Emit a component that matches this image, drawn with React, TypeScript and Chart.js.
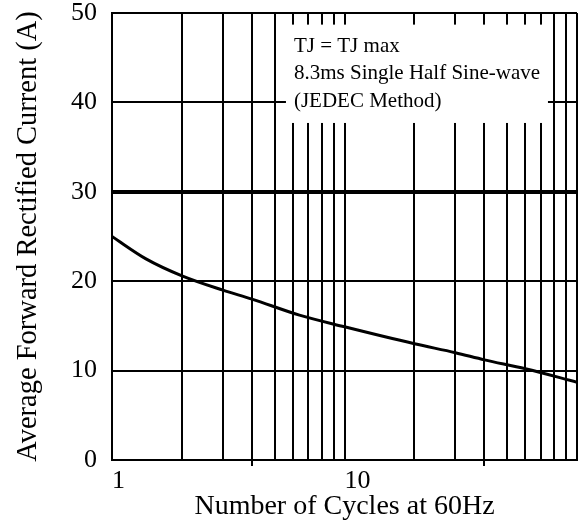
import React, { useEffect, useRef } from 'react';
import { Chart, registerables } from 'chart.js';

Chart.register(...registerables);

// ---- data ----
const cycles = [1, 1.4, 2, 3, 4, 6.4, 10, 20, 30, 40, 60, 100];
const current = [25, 22.5, 20.6, 19, 18, 16.2, 14.9, 13, 12, 11.2, 10.2, 8.7];
const xGridValues = [1, 2, 3, 4, 5, 6, 7, 8, 9, 10, 20, 30, 40, 50, 60, 70, 80, 90, 100];
const xLabelValues = [1, 10];
const xTickMarkValues = [4, 40];
const yMin = 0;
const yMax = 50;
const yStep = 10;
const emphasizedY = 30;
const noteLines = ['TJ = TJ max', '8.3ms Single Half Sine-wave', '(JEDEC Method)'];
const xTitle = 'Number of Cycles at 60Hz';
const yTitle = 'Average Forward Rectified Current (A)';

const FONT = '"Liberation Serif", "Times New Roman", Times, serif';

const notePlugin = {
  id: 'noteBox',
  beforeDatasetsDraw(chart: any) {
    const { ctx, scales } = chart;
    const x = scales.x;
    const y = scales.y;
    const left = x.getPixelForValue(5.6);
    const right = x.getPixelForValue(75);
    const top = y.getPixelForValue(48.7);
    const bottom = y.getPixelForValue(37.7);
    ctx.save();
    ctx.fillStyle = '#ffffff';
    ctx.fillRect(left, top, right - left, bottom - top);
    ctx.fillStyle = '#000000';
    ctx.font = '21px ' + FONT;
    ctx.textBaseline = 'alphabetic';
    ctx.textAlign = 'left';
    noteLines.forEach((t, i) => {
      ctx.fillText(t, left + 8, top + 27 + i * 27.5);
    });
    ctx.restore();
  },
};

export default function App() {
  const ref = useRef<HTMLCanvasElement | null>(null);

  useEffect(() => {
    if (!ref.current) return;
    const chart = new Chart(ref.current, {
      type: 'line',
      data: {
        datasets: [
          {
            data: cycles.map((c, i) => ({ x: c, y: current[i] })),
            borderColor: '#000000',
            borderWidth: 3,
            pointRadius: 0,
            fill: false,
            cubicInterpolationMode: 'monotone',
          },
        ],
      },
      options: {
        animation: false,
        responsive: false,
        maintainAspectRatio: false,
        devicePixelRatio: 1,
        layout: { padding: { left: 0, right: 4, top: 13, bottom: 0 } },
        plugins: {
          legend: { display: false },
          tooltip: { enabled: false },
        },
        scales: {
          x: {
            type: 'logarithmic',
            min: 1,
            max: 100,
            afterBuildTicks(scale: any) {
              scale.ticks = xGridValues.map((v) => ({ value: v }));
            },
            afterFit(scale: any) {
              scale.height = 67;
              scale.paddingLeft = 0;
              scale.paddingRight = 0;
            },
            ticks: {
              autoSkip: false,
              maxRotation: 0,
              minRotation: 0,
              align: 'start',
              padding: 2,
              color: '#000000',
              font: { family: FONT, size: 26, lineHeight: 1 },
              callback: (value: any) => (xLabelValues.includes(Number(value)) ? String(value) : ''),
            },
            grid: {
              color: '#000000',
              lineWidth: 2,
              drawTicks: true,
              tickLength: 6,
              tickWidth: 2,
              tickColor: (ctx: any) =>
                ctx.tick && xTickMarkValues.includes(ctx.tick.value) ? '#000000' : 'rgba(0,0,0,0)',
            },
            border: { display: true, color: '#000000', width: 2 },
            title: {
              display: true,
              text: xTitle,
              color: '#000000',
              font: { family: FONT, size: 28, lineHeight: 1.2 },
              padding: { top: 0, bottom: 4 },
            },
          },
          y: {
            type: 'linear',
            min: yMin,
            max: yMax,
            afterFit(scale: any) {
              scale.width = 112;
              scale.paddingTop = 0;
              scale.paddingBottom = 0;
            },
            ticks: {
              stepSize: yStep,
              padding: 15,
              color: '#000000',
              font: { family: FONT, size: 26, lineHeight: 1 },
            },
            grid: {
              color: '#000000',
              lineWidth: (ctx: any) => (ctx.tick && ctx.tick.value === emphasizedY ? 4 : 2),
              drawTicks: false,
            },
            border: { display: true, color: '#000000', width: 2 },
            title: {
              display: true,
              text: yTitle,
              color: '#000000',
              font: { family: FONT, size: 28.5, lineHeight: 1.2 },
              padding: { top: 11, bottom: 0 },
            },
          },
        },
      },
      plugins: [notePlugin],
    } as any);
    return () => chart.destroy();
  }, []);

  return (
    <canvas
      ref={ref}
      width={581}
      height={527}
      style={{ position: 'fixed', left: 0, top: 0, width: 581, height: 527 }}
    />
  );
}
